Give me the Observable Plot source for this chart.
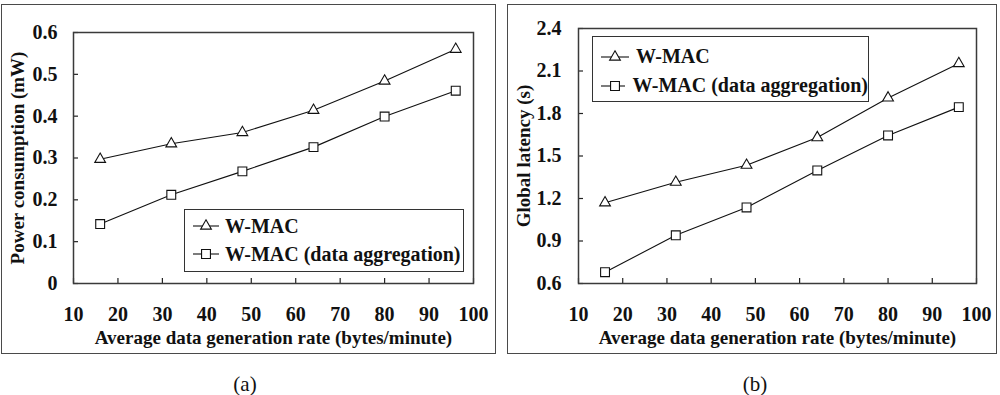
<!DOCTYPE html>
<html>
<head>
<meta charset="utf-8">
<script src="https://cdn.jsdelivr.net/npm/d3@7"></script>
<script src="https://cdn.jsdelivr.net/npm/@observablehq/plot@0.6"></script>
<style>
  html, body { margin: 0; padding: 0; background: #fff; }
  #root { position: relative; width: 1000px; height: 395px; overflow: hidden; font-family: 'Liberation Serif', 'Times New Roman', serif; }
  .outer { position: absolute; border: 1.5px solid #4a4a4a; box-sizing: border-box; }
  .panel { position: absolute; top: 0; }
  .caption { position: absolute; top: 370px; width: 60px; text-align: center; font-size: 21px; line-height: 28px; color: #111; }
  .legend { position: absolute; border: 1.3px solid #333; box-sizing: border-box; background: #fff; font-weight: bold; font-size: 20px; color: #111; }
  .legend .row { display: flex; align-items: center; white-space: nowrap; }
  .legend svg { display: block; }
</style>
</head>
<body>
<div id="root"></div>
<script>
// ---- data ----
const rates = [16, 32, 48, 64, 80, 96];
const seriesNames = ["W-MAC", "W-MAC (data aggregation)"];
const powerWMAC = [0.297, 0.334, 0.361, 0.414, 0.484, 0.560];
const powerAgg  = [0.142, 0.212, 0.268, 0.326, 0.399, 0.461];
const latencyWMAC = [1.170, 1.315, 1.435, 1.630, 1.910, 2.153];
const latencyAgg  = [0.680, 0.940, 1.137, 1.398, 1.645, 1.845];
const xTicks = [10, 20, 30, 40, 50, 60, 70, 80, 90, 100];
const xTickLabels = ["10", "20", "30", "40", "50", "60", "70", "80", "90", "100"];
const yTicksA = [0, 0.1, 0.2, 0.3, 0.4, 0.5, 0.6];
const yTickLabelsA = ["0", "0.1", "0.2", "0.3", "0.4", "0.5", "0.6"];
const yTicksB = [0.6, 0.9, 1.2, 1.5, 1.8, 2.1, 2.4];
const yTickLabelsB = ["0.6", "0.9", "1.2", "1.5", "1.8", "2.1", "2.4"];
const xTitle = "Average data generation rate (bytes/minute)";
const yTitleA = "Power consumption (mW)";
const yTitleB = "Global latency (s)";
const captions = ["(a)", "(b)"];

const root = document.getElementById("root");

function makeRows(v1, v2) {
  return rates.flatMap((x, i) => [
    {x, y: v1[i], s: seriesNames[0]},
    {x, y: v2[i], s: seriesNames[1]}
  ]);
}

function panel({left, width, height, m, yDomain, yTicks, yLabels, yTitle, v1, v2, yTitleDx, tickPad}) {
  const rows = makeRows(v1, v2);
  const plotW = width - m.left - m.right;
  const plotH = height - m.top - m.bottom;
  const fmt = (labels, ticks) => d => labels[ticks.findIndex(t => Math.abs(t - d) < 1e-9)];
  const svg = Plot.plot({
    width, height,
    marginLeft: m.left, marginRight: m.right, marginTop: m.top, marginBottom: m.bottom,
    style: {fontFamily: "'Liberation Serif', 'Times New Roman', serif", fontSize: "19px", fontWeight: "bold", color: "#111", background: "transparent", overflow: "visible"},
    x: {domain: [10, 100]},
    y: {domain: yDomain},
    marks: [
      Plot.axisX({ticks: xTicks, tickSize: 0, tickPadding: 23, fontSize: 20, tickFormat: fmt(xTickLabels, xTicks), label: null}),
      Plot.axisY({ticks: yTicks, tickSize: 0, tickPadding: tickPad, fontSize: 20, tickFormat: fmt(yLabels, yTicks), label: null}),
      Plot.tickX(xTicks, {x: d => d, insetTop: plotH - 5, stroke: "#222", strokeWidth: 1.2}),
      Plot.tickY(yTicks, {y: d => d, insetRight: plotW - 5, stroke: "#222", strokeWidth: 1.2}),
      Plot.frame({stroke: "#3a3a3a", strokeWidth: 1.5}),
      Plot.line(rows, {x: "x", y: "y", z: "s", stroke: "#111", strokeWidth: 1.1}),
      Plot.dot(rows.filter(d => d.s === seriesNames[0]), {x: "x", y: "y", symbol: "triangle", r: 4, fill: "white", stroke: "#111", strokeWidth: 1.1}),
      Plot.dot(rows.filter(d => d.s === seriesNames[1]), {x: "x", y: "y", symbol: "square", r: 5, fill: "white", stroke: "#111", strokeWidth: 1.1}),
      Plot.text([xTitle], {frameAnchor: "bottom", textAnchor: "middle", lineAnchor: "middle", dy: 54, fill: "#111"}),
      Plot.text([yTitle], {frameAnchor: "left", textAnchor: "middle", lineAnchor: "middle", rotate: -90, dx: yTitleDx, fill: "#111"})
    ]
  });
  const wrap = document.createElement("div");
  wrap.className = "panel";
  wrap.style.left = left + "px";
  wrap.appendChild(svg);
  root.appendChild(wrap);
}

function outer(l, t, r, b) {
  const d = document.createElement("div");
  d.className = "outer";
  Object.assign(d.style, {left: l + "px", top: t + "px", width: (r - l) + "px", height: (b - t) + "px"});
  root.appendChild(d);
}

function legend({left, top, width, height, padTop, lineH, padLeft, lineW, gap}) {
  const box = document.createElement("div");
  box.className = "legend";
  Object.assign(box.style, {left: left + "px", top: top + "px", width: width + "px", height: height + "px", paddingTop: padTop + "px", paddingLeft: padLeft + "px"});
  const syms = [{type: d3.symbolTriangle, r: 4}, {type: d3.symbolSquare, r: 5}];
  seriesNames.forEach((name, i) => {
    const row = document.createElement("div");
    row.className = "row";
    row.style.height = lineH + "px";
    const s = d3.create("svg").attr("width", lineW).attr("height", 16);
    s.append("line").attr("x1", 0).attr("x2", lineW).attr("y1", 8).attr("y2", 8).attr("stroke", "#111").attr("stroke-width", 1.1);
    s.append("path").attr("transform", `translate(${lineW / 2},8)`)
      .attr("d", d3.symbol(syms[i].type, syms[i].r * syms[i].r * Math.PI)())
      .attr("fill", "white").attr("stroke", "#111").attr("stroke-width", 1.1);
    row.appendChild(s.node());
    const t = document.createElement("span");
    t.textContent = name;
    t.style.marginLeft = gap + "px";
    row.appendChild(t);
    box.appendChild(row);
  });
  root.appendChild(box);
}

outer(1, 4, 496, 354);
outer(507, 4, 997, 354);

panel({left: 0, width: 500, height: 360, m: {left: 73, right: 27, top: 32, bottom: 77},
  yDomain: [0, 0.6], yTicks: yTicksA, yLabels: yTickLabelsA, yTitle: yTitleA,
  v1: powerWMAC, v2: powerAgg, yTitleDx: -56, tickPad: 16});
panel({left: 500, width: 500, height: 360, m: {left: 78, right: 24, top: 28, bottom: 77},
  yDomain: [0.6, 2.4], yTicks: yTicksB, yLabels: yTickLabelsB, yTitle: yTitleB,
  v1: latencyWMAC, v2: latencyAgg, yTitleDx: -55, tickPad: 17});

legend({left: 184, top: 209, width: 280, height: 63, padTop: 2, lineH: 28, padLeft: 8, lineW: 26, gap: 6});
legend({left: 592, top: 36, width: 277, height: 66, padTop: 5, lineH: 29, padLeft: 8, lineW: 28, gap: 7});

captions.forEach((c, i) => {
  const d = document.createElement("div");
  d.className = "caption";
  d.textContent = c;
  d.style.left = (i === 0 ? 245 - 30 : 755 - 30) + "px";
  root.appendChild(d);
});
</script>
</body>
</html>
